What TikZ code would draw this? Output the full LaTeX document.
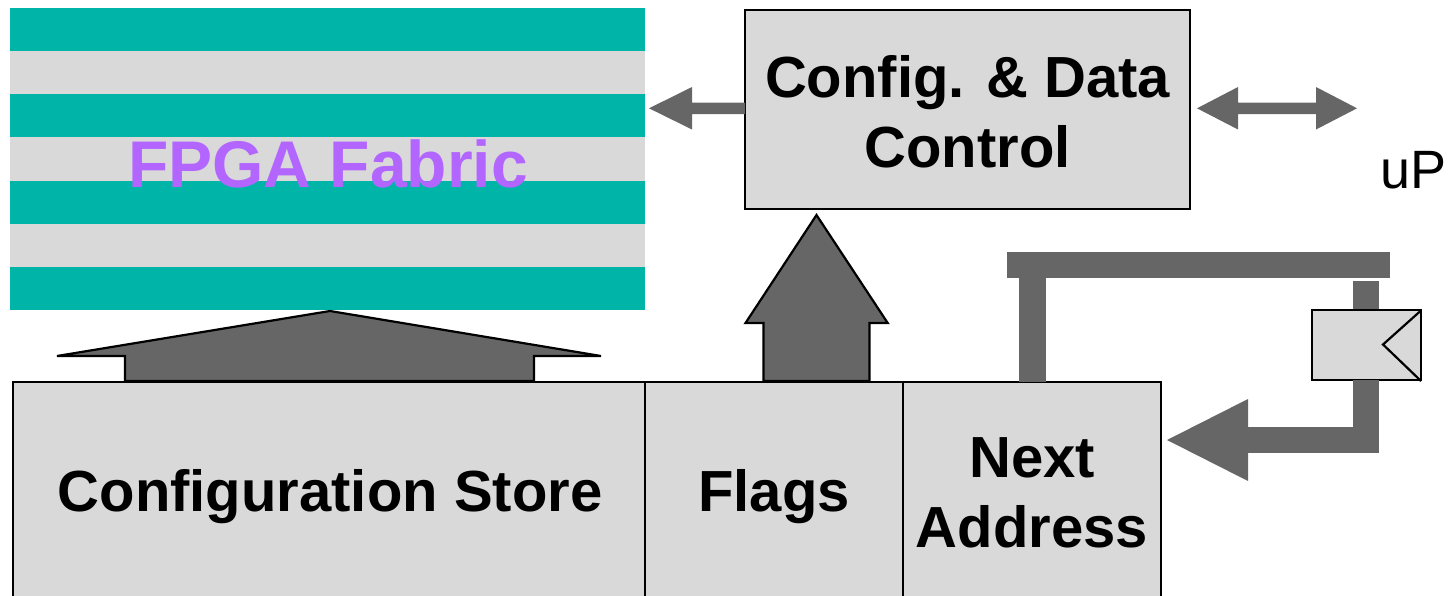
\documentclass[tikz,border=0pt]{standalone}
\usepackage{fontspec}
\setmainfont{Liberation Sans}
\usetikzlibrary{fit}
\definecolor{fabricteal}{HTML}{00B5A8}
\definecolor{panelgray}{HTML}{D9D9D9}
\definecolor{busgray}{HTML}{666666}
\definecolor{fabricviolet}{HTML}{B366FF}

\begin{document}
\begin{tikzpicture}[x=0.5pt,y=-0.5pt,
  unit/.style={draw=black, line width=1.2pt, fill=panelgray, inner sep=0pt},
  lbl/.style={font=\bfseries\fontsize{29}{35}\selectfont, align=center, inner sep=0pt},
  bus/.style={fill=busgray, draw=none},
  busarrow/.style={fill=busgray, draw=black, line width=1.1pt, line join=miter},
]
\useasboundingbox (0,0) rectangle (1455,595);
\clip (0,0) rectangle (1455,595);

% striped FPGA fabric
\fill[fabricteal] (10,8) rectangle (645,310);
\foreach \i in {1,3,5}
  \fill[panelgray] (10,{8+43.14*\i}) rectangle (645,{8+43.14*(\i+1)});
\node[fit={(10,8)(645,310)}, inner sep=0pt] (fabric) {};
\node[font=\bfseries\fontsize{33}{40}\selectfont, text=fabricviolet,
      anchor=base, inner sep=0pt] (fabriclabel) at (328,187) {FPGA Fabric};

% lower row of units
\node[unit, fit={(13,382)(645,640)}] (store) {};
\node[unit, fit={(645,382)(903,640)}] (flags) {};
\node[unit, fit={(903,382)(1161,640)}] (next) {};
\node[lbl, anchor=base] (storelabel) at (330,511) {Configuration Store};
\node[lbl, anchor=base] (flagslabel) at (774,511) {Flags};
\node[lbl, anchor=base] (nextlabel) at (1032,547) {Next\\Address};

% configuration and data controller
\node[unit, fit={(745,10)(1190,209)}] (ctl) {};
\node[lbl, anchor=base] (ctllabel) at (967.5,167) {Config. \& Data\\Control};

% host interface
\node[font=\fontsize{27}{32}\selectfont, anchor=base, inner sep=0pt] (up) at (1413.5,188) {uP};

% store loads the fabric
\draw[busarrow] (125,381) -- (125,356) -- (57,356) -- (330,311) -- (601,356)
  -- (534,356) -- (534,381) -- cycle;

% flags feed the controller
\draw[busarrow] (763.5,381) -- (763.5,323) -- (745.5,323) -- (816.5,215)
  -- (887.7,323) -- (869.5,323) -- (869.5,381) -- cycle;

% controller to fabric
\fill[bus] (745,102.7) -- (692,102.7) -- (692,87) -- (649,108.3) -- (692,129.5)
  -- (692,114) -- (745,114) -- cycle;

% controller to host, both ways
\fill[bus] (1197,108.3) -- (1238,87) -- (1238,102.7) -- (1316,102.7) -- (1316,87)
  -- (1357,108.3) -- (1316,129.5) -- (1316,114) -- (1238,114) -- (1238,129.5) -- cycle;

% next-address feedback through the register
\fill[bus] (1007,252) rectangle (1390,278);
\fill[bus] (1019,278) rectangle (1046,382);
\fill[bus] (1353,281) rectangle (1379,310);
\node[unit, fit={(1312,310)(1421,380)}] (reg) {};
\draw[line width=1.1pt] (1421,310.5) -- (1383,344.5) -- (1421,381);
\fill[bus] (1353,380) rectangle (1379,453);
\fill[bus] (1248,427) rectangle (1379,453);
\fill[bus] (1248,399) -- (1167,440) -- (1248,481) -- cycle;
\end{tikzpicture}
\end{document}
